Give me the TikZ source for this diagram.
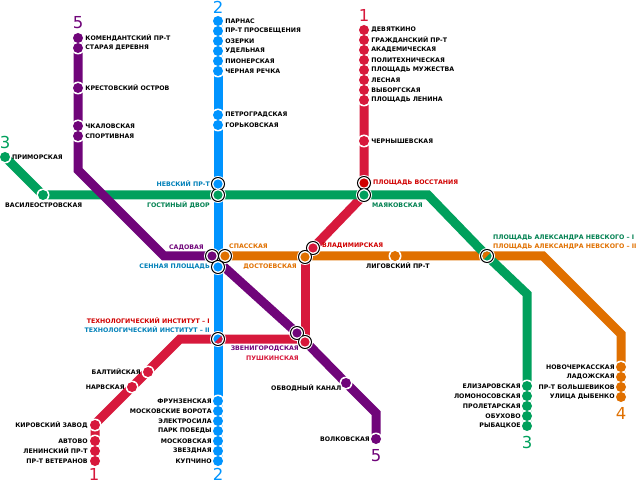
\documentclass[tikz,border=0pt]{standalone}
\usepackage{fontspec}
\setmainfont{DejaVu Sans}
\usetikzlibrary{positioning,backgrounds}
\pgfdeclarelayer{halo}
\pgfsetlayers{background,halo,main}
\definecolor{purp}{HTML}{70057A}
\definecolor{blueline}{HTML}{0094FF}
\definecolor{greenline}{HTML}{00A05C}
\definecolor{redline}{HTML}{D7193C}
\definecolor{orangeline}{HTML}{E07000}
\definecolor{bluetext}{HTML}{0080B8}
\definecolor{greentext}{HTML}{008050}
\definecolor{redtext}{HTML}{D00000}
\tikzset{
	metro/.style={draw=#1,line width=9pt,line cap=butt,line join=miter},
	stop/.style={circle,fill=#1,minimum size=10pt,inner sep=0pt},
	hub/.style={circle,draw=black,fill=white,line width=1pt,minimum size=13pt,inner sep=0pt},
	lbl/.style={font=\bfseries\fontsize{6.25pt}{7pt}\selectfont,inner sep=0pt,text=#1},
	lbl/.default=black,
	linenum/.style={font=\fontsize{16.5pt}{16.5pt}\selectfont,inner sep=0pt,text=#1}
}
\begin{document}
\begin{tikzpicture}[x=1pt,y=-1pt]
	\useasboundingbox (0,0) rectangle (638,484);
	% hubs
	\foreach \n/\x/\y in {nevsky/218/184,gostiny/218/195,vosstaniya/364/183,mayak/364/195,
		sadovaya/212/256,spasskaya/225/256,sennaya/218/267,vladimir/313/248,dostoev/305/257,
		zvenigorod/297/333,pushkin/305/342,techno/218/339,nevskogo/487/256}
		\node[hub] (\n) at (\x,\y) {};
	% line 5
	\foreach \n/\x/\y/\t in {komend/78/38/КОМЕНДАНТСКИЙ ПР-Т,staraya/78/48/СТАРАЯ ДЕРЕВНЯ,krest/78/88/КРЕСТОВСКИЙ ОСТРОВ,
		chkal/78/126/ЧКАЛОВСКАЯ,sport/78/136/СПОРТИВНАЯ}{
		\begin{pgfonlayer}{halo}\fill[white] (\x,\y) circle (6.5);\end{pgfonlayer}
		\node[stop=purp] (\n) at (\x,\y) {};
		\node[lbl,right=2pt of \n] (\n-t) {\t};
	}
	\node[stop=purp] (obvodny) at (346,383) {};
	\node[stop=purp] (volkov) at (376,439) {};
	\begin{pgfonlayer}{halo}
		\fill[white] (obvodny) circle (6.5);
		\fill[white] (volkov) circle (6.5);
	\end{pgfonlayer}
	% line 2
	\foreach \n/\x/\y/\t in {parnas/218/21/ПАРНАС,prosvet/218/31/ПР-Т ПРОСВЕЩЕНИЯ,ozerki/218/41/ОЗЕРКИ,
		udelnaya/218/51/УДЕЛЬНАЯ,pioner/218/61/ПИОНЕРСКАЯ,chernaya/218/71/ЧЕРНАЯ РЕЧКА,
		petrograd/218/115/ПЕТРОГРАДСКАЯ,gorkov/218/125/ГОРЬКОВСКАЯ}{
		\begin{pgfonlayer}{halo}\fill[white] (\x,\y) circle (6.5);\end{pgfonlayer}
		\node[stop=blueline] (\n) at (\x,\y) {};
		\node[lbl,right=2pt of \n] (\n-t) {\t};
	}
	\foreach \n/\x/\y/\t in {frunze/218/401/ФРУНЗЕНСКАЯ,movorota/218/411/МОСКОВСКИЕ ВОРОТА,elektro/218/421/ЭЛЕКТРОСИЛА,
		pobedy/218/431/ПАРК ПОБЕДЫ,moskov/218/441/МОСКОВСКАЯ,zvezd/218/451/ЗВЕЗДНАЯ,kupchino/218/461/КУПЧИНО}{
		\begin{pgfonlayer}{halo}\fill[white] (\x,\y) circle (6.5);\end{pgfonlayer}
		\node[stop=blueline] (\n) at (\x,\y) {};
		\node[lbl,left=1pt of \n] (\n-t) {\t};
	}
	% line 1
	\foreach \n/\x/\y/\t in {devyat/364/30/ДЕВЯТКИНО,grazhd/364/40/ГРАЖДАНСКИЙ ПР-Т,akadem/364/50/АКАДЕМИЧЕСКАЯ,
		politeh/364/60/ПОЛИТЕХНИЧЕСКАЯ,muzhest/364/70/ПЛОЩАДЬ МУЖЕСТВА,lesnaya/364/80/ЛЕСНАЯ,
		vyborg/364/90/ВЫБОРГСКАЯ,lenina/364/100/ПЛОЩАДЬ ЛЕНИНА,chern/364/141/ЧЕРНЫШЕВСКАЯ}{
		\begin{pgfonlayer}{halo}\fill[white] (\x,\y) circle (6.5);\end{pgfonlayer}
		\node[stop=redline] (\n) at (\x,\y) {};
		\node[lbl,right=2pt of \n] (\n-t) {\t};
	}
	\foreach \n/\x/\y/\t in {balt/148/372/БАЛТИЙСКАЯ,narva/132/387/НАРВСКАЯ,kirov/95/425/КИРОВСКИЙ ЗАВОД,
		avtovo/95/441/АВТОВО,leninsky/95/451/ЛЕНИНСКИЙ ПР-Т,veteran/95/461/ПР-Т ВЕТЕРАНОВ}{
		\begin{pgfonlayer}{halo}\fill[white] (\x,\y) circle (6.5);\end{pgfonlayer}
		\node[stop=redline] (\n) at (\x,\y) {};
		\node[lbl,left=2pt of \n] (\n-t) {\t};
	}
	% line 3
	\foreach \n/\x/\y/\t in {elizar/527/386/ЕЛИЗАРОВСКАЯ,lomonos/527/396/ЛОМОНОСОВСКАЯ,prolet/527/406/ПРОЛЕТАРСКАЯ,
		obuhovo/527/416/ОБУХОВО,rybatsk/527/426/РЫБАЦКОЕ}{
		\begin{pgfonlayer}{halo}\fill[white] (\x,\y) circle (6.5);\end{pgfonlayer}
		\node[stop=greenline] (\n) at (\x,\y) {};
		\node[lbl,left=1pt of \n] (\n-t) {\t};
	}
	\node[stop=greenline] (primor) at (5,157) {};
	\node[stop=greenline] (vasil) at (43,195) {};
	\begin{pgfonlayer}{halo}
		\fill[white] (primor) circle (6.5);
		\fill[white] (vasil) circle (6.5);
	\end{pgfonlayer}
	% line 4
	\foreach \n/\x/\y/\t in {novocherk/621/367/НОВОЧЕРКАССКАЯ,ladozh/621/377/ЛАДОЖСКАЯ,bolshev/621/387/ПР-Т БОЛЬШЕВИКОВ,dybenko/621/397/УЛИЦА ДЫБЕНКО}{
		\begin{pgfonlayer}{halo}\fill[white] (\x,\y) circle (6.5);\end{pgfonlayer}
		\node[stop=orangeline] (\n) at (\x,\y) {};
		\node[lbl,left=1pt of \n] (\n-t) {\t};
	}
	\node[stop=orangeline] (ligov) at (395,256) {};
	\begin{pgfonlayer}{halo}\fill[white] (ligov) circle (6.5);\end{pgfonlayer}
	% bends
	\coordinate (bend5a) at (78,170);
	\coordinate (bend5b) at (164,256);
	\coordinate (bend5c) at (376,413);
	\coordinate (bend3a) at (428,195);
	\coordinate (bend3b) at (527,294);
	\coordinate (bend1a) at (180,339);
	\coordinate (bend1b) at (95,424);
	\coordinate (bend1c) at (305,339);
	\coordinate (bend1d) at (364,195);
	\coordinate (bend4a) at (543,256);
	\coordinate (bend4b) at (621,334);
	% lines
	\begin{scope}[on background layer]
		\draw[metro=redline] (devyat.center) -- (bend1d) -- (vladimir.center);
		\draw[metro=redline] (dostoev.center) -- (pushkin.center);
		\draw[metro=redline] (pushkin.center) -- (bend1c) -- (bend1a) -- (bend1b) -- (veteran.center);
		\draw[metro=orangeline] (spasskaya.center) -- (ligov.center) -- (nevskogo.center) -- (bend4a) -- (bend4b) -- (dybenko.center);
		\draw[metro=greenline] (primor.center) -- (vasil.center) -- (gostiny.center) -- (mayak.center) -- (bend3a) -- (nevskogo.center) -- (bend3b) -- (rybatsk.center);
		\draw[metro=purp] (komend.center) -- (bend5a) -- (bend5b) -- (sadovaya.center) -- (zvenigorod.center) -- (obvodny.center) -- (bend5c) -- (volkov.center);
		\draw[metro=blueline] (parnas.center) -- (kupchino.center);
	\end{scope}
	% hub halos
	\begin{pgfonlayer}{halo}
		\foreach \n in {nevsky,gostiny,vosstaniya,mayak,sadovaya,spasskaya,sennaya,vladimir,dostoev,zvenigorod,pushkin,techno,nevskogo}
			\fill[white] (\n) circle (8);
	\end{pgfonlayer}
	% hub insides
	\foreach \n/\c in {nevsky/blueline,gostiny/greenline,vosstaniya/redtext,mayak/greenline,sadovaya/purp,spasskaya/orangeline,
		sennaya/blueline,vladimir/redline,dostoev/orangeline,zvenigorod/purp,pushkin/redline,techno/blueline,nevskogo/greenline}{
		\fill[white] (\n) circle (5.6);
		\fill[\c] (\n) circle (4.6);
	}
	\fill[redline] (techno)+(-45:4.6) arc (-45:135:4.6) -- cycle;
	\fill[orangeline] (nevskogo)+(-45:4.6) arc (-45:-225:4.6) -- cycle;
	% other labels
	\node[lbl,anchor=west] (primor-t) at (12,157) {ПРИМОРСКАЯ};
	\node[lbl,anchor=west] (vasil-t) at (5,205) {ВАСИЛЕОСТРОВСКАЯ};
	\node[lbl=bluetext,anchor=east] (nevsky-t) at (210,184) {НЕВСКИЙ ПР-Т};
	\node[lbl=greentext,anchor=east] (gostiny-t) at (210,205) {ГОСТИНЫЙ ДВОР};
	\node[lbl=redtext,anchor=west] (vosstaniya-t) at (373,183) {ПЛОЩАДЬ ВОССТАНИЯ};
	\node[lbl=greentext,anchor=west] (mayak-t) at (372,205) {МАЯКОВСКАЯ};
	\node[lbl=greentext,anchor=west] (nevskogo-t) at (493,238) {ПЛОЩАДЬ АЛЕКСАНДРА НЕВСКОГО -- I};
	\node[lbl=orangeline,anchor=west] (nevskogo-u) at (493,247) {ПЛОЩАДЬ АЛЕКСАНДРА НЕВСКОГО -- II};
	\node[lbl=purp,anchor=east] (sadovaya-t) at (204,248) {САДОВАЯ};
	\node[lbl=bluetext,anchor=east] (sennaya-t) at (210,267) {СЕННАЯ ПЛОЩАДЬ};
	\node[lbl=orangeline,anchor=west] (spasskaya-t) at (229,246) {СПАССКАЯ};
	\node[lbl=orangeline,anchor=east] (dostoev-t) at (297,267) {ДОСТОЕВСКАЯ};
	\node[lbl=redtext,anchor=west] (vladimir-t) at (322,246) {ВЛАДИМИРСКАЯ};
	\node[lbl,anchor=west] (ligov-t) at (366,266) {ЛИГОВСКИЙ ПР-Т};
	\node[lbl=redtext,anchor=east] (techno-t) at (210,321) {ТЕХНОЛОГИЧЕСКИЙ ИНСТИТУТ -- I};
	\node[lbl=bluetext,anchor=east] (techno-u) at (210,330) {ТЕХНОЛОГИЧЕСКИЙ ИНСТИТУТ -- II};
	\node[lbl=purp,anchor=east] (zvenigorod-t) at (299,349) {ЗВЕНИГОРОДСКАЯ};
	\node[lbl=redline,anchor=east] (pushkin-t) at (299,358) {ПУШКИНСКАЯ};
	\node[lbl,anchor=west] (obvodny-t) at (271,388) {ОБВОДНЫЙ КАНАЛ};
	\node[lbl,anchor=east] (volkov-t) at (370,439) {ВОЛКОВСКАЯ};
	% line numbers
	\node[linenum=purp] (num5a) at (78,23) {5};
	\node[linenum=blueline] (num2a) at (218,7.5) {2};
	\node[linenum=redline] (num1a) at (364,15) {1};
	\node[linenum=greenline] (num3a) at (5,142) {3};
	\node[linenum=redline] (num1b) at (94,474.5) {1};
	\node[linenum=blueline] (num2b) at (218,474.5) {2};
	\node[linenum=greenline] (num3b) at (527,442) {3};
	\node[linenum=orangeline] (num4) at (621,413) {4};
	\node[linenum=purp] (num5b) at (376,456) {5};
\end{tikzpicture}
\end{document}
